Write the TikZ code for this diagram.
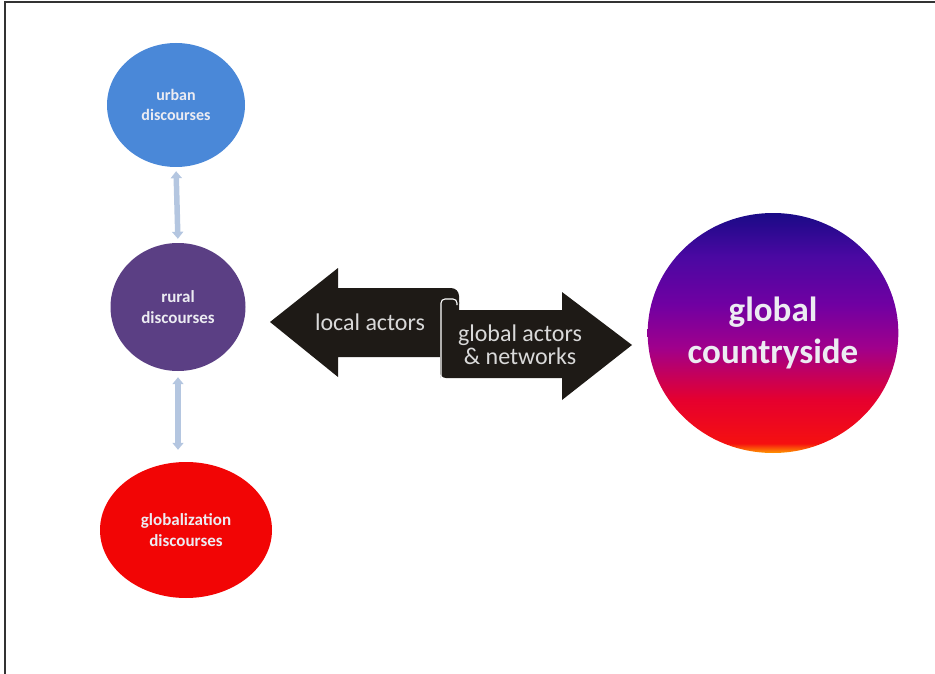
\documentclass[tikz,border=0pt]{standalone}
\usepackage{fontspec}
\setmainfont{Carlito}
\usetikzlibrary{shapes.geometric,arrows.meta}
\definecolor{urbanblue}{HTML}{4A88D8}
\definecolor{ruralpurple}{HTML}{5B3F84}
\definecolor{globred}{HTML}{F20505}
\definecolor{linkblue}{HTML}{B4C6E0}
\definecolor{scrollblack}{HTML}{1E1A16}
\definecolor{arrowtext}{HTML}{D9D9D9}
\definecolor{disctext}{HTML}{ECECF2}
\definecolor{gcOr}{HTML}{FF9A00}
\definecolor{gcRed}{HTML}{F51010}
\definecolor{gcRed2}{HTML}{E6002E}
\definecolor{gcMag}{HTML}{A0008C}
\definecolor{gcPur}{HTML}{7000A2}
\definecolor{gcViol}{HTML}{4A08A2}
\definecolor{gcBlue}{HTML}{1A0A86}
\pgfdeclareverticalshading{gcshade}{100bp}{color(0bp)=(gcOr); color(25bp)=(gcOr); color(27bp)=(gcRed); color(36bp)=(gcRed2); color(47bp)=(gcMag); color(56bp)=(gcPur); color(66bp)=(gcViol); color(75bp)=(gcBlue); color(100bp)=(gcBlue)}
\tikzset{
  disc/.style={ellipse, inner sep=0pt, text=disctext, align=center,
    font=\bfseries\fontsize{17}{21}\selectfont},
  varrow/.style={draw=linkblue, line width=5.5pt,
    {Triangle[width=11pt,length=7pt]}-{Triangle[width=11pt,length=7pt]}},
  arrtext/.style={text=arrowtext, align=center, inner sep=0pt,
    font=\fontsize{24}{23}\selectfont},
}
\begin{document}
\begin{tikzpicture}[x=1pt,y=-1pt]
\useasboundingbox (0,0) rectangle (935,674);
\draw[line width=1.2pt, black!80] (935,2) -- (5,2) -- (5,674);

\node[disc, fill=urbanblue, minimum width=138pt, minimum height=124pt,
  font=\bfseries\fontsize{16}{20}\selectfont] (urban) at (176,105) {urban\\discourses};
\node[disc, fill=ruralpurple, minimum width=135pt, minimum height=128pt] (rural) at (178,307) {rural\\discourses};
\node[disc, fill=globred, minimum width=172pt, minimum height=136pt] (globd) at (186,530) {globalization\\discourses};

\node[ellipse, shading=gcshade, minimum width=250pt, minimum height=240pt,
  text=disctext, align=center, font=\bfseries\fontsize{35}{42}\selectfont] (gc) at (773,333) {global\\countryside};

\draw[varrow, shorten <=4pt, shorten >=4pt] (urban.south) -- (rural.north);
\draw[varrow, line width=6pt, shorten <=6pt, shorten >=12pt] (rural.south) -- (rural.south |- globd.north);

% scroll double arrow
\fill[scrollblack] (270,322) -- (338,268) -- (338,288)
  [rounded corners=8pt] -- (459,288) -- (459,312) [sharp corners] -- (440,312)
  -- (440,357) -- (338,357) -- (338,377) -- cycle;
\fill[scrollblack] [rounded corners=6pt] (440,378) [sharp corners] -- (440,302) -- (459,302) -- (459,310)
  -- (562,310) -- (562,292) -- (632,345) -- (562,400) -- (562,378) [rounded corners=6pt] -- (440,378) -- (440,360);
\draw[white, line width=1.1pt, rounded corners=4pt] (441,376) -- (441,299) -- (457,299) -- (457,305);

\node[arrtext] (local) at (370,322) {local actors};
\node[arrtext] (globact) at (520,345) {global actors\\\& networks};
\end{tikzpicture}
\end{document}
